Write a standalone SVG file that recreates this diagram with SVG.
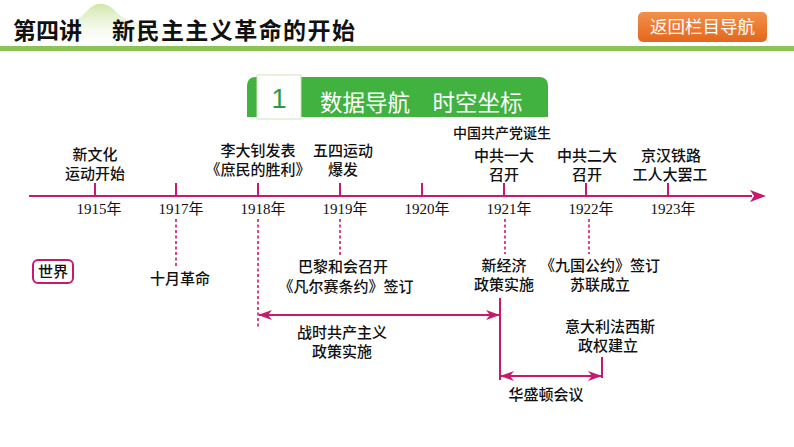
<svg xmlns="http://www.w3.org/2000/svg" width="794" height="447" viewBox="0 0 794 447">
<defs>
<linearGradient id="hill" x1="0" y1="0" x2="0" y2="1">
<stop offset="0" stop-color="#cfe6a8"/>
<stop offset="1" stop-color="#ffffff" stop-opacity="0.2"/>
</linearGradient>
<linearGradient id="btn" x1="0" y1="0" x2="0" y2="1">
<stop offset="0" stop-color="#f3904a"/>
<stop offset="1" stop-color="#e4661c"/>
</linearGradient>
<marker id="ah" viewBox="0 0 14 10" refX="13" refY="5" markerWidth="14" markerHeight="10" markerUnits="userSpaceOnUse" orient="auto-start-reverse">
<path d="M0,0 L14,5 L0,10 L4,5 Z" fill="#c8196e"/>
</marker>
</defs>
<style>
.t{font-family:"Noto Sans CJK SC",sans-serif;font-size:15px;fill:#111;text-anchor:middle;font-weight:500}
.y{font-family:"Liberation Serif","Noto Sans CJK SC",serif;font-size:15px;fill:#111;text-anchor:middle}
.ln{stroke:#c8196e;stroke-width:2;fill:none}
.dot{stroke:#c8196e;stroke-width:1.6;stroke-dasharray:3,2.5;fill:none}
</style>
<rect width="794" height="447" fill="#ffffff"/>
<g id="header">
<path d="M0,46 C40,40 70,30 90,8 C100,0 110,4 118,14 C150,34 220,40 280,46 Z" fill="url(#hill)"/>
<rect x="0" y="46" width="794" height="5" fill="#8dc255"/>
<text x="13" y="39" font-family="Noto Sans CJK SC,sans-serif" font-size="23" font-weight="bold" fill="#111">第四讲</text>
<text x="112" y="39" font-family="Noto Sans CJK SC,sans-serif" font-size="23" font-weight="bold" fill="#111" textLength="243">新民主主义革命的开始</text>
</g>
<g id="btn-back">
<rect x="638" y="12" width="129" height="30" rx="5" fill="url(#btn)"/>
<text x="702.5" y="33" font-family="Noto Sans CJK SC,sans-serif" font-size="17.5" fill="#ffffff" text-anchor="middle">返回栏目导航</text>
</g>
<g id="banner">
<path d="M247,117 L247,86 Q247,77 256,77 L539,77 Q548,77 548,86 L548,117 Z" fill="#41b240"/>
<rect x="257" y="75" width="44" height="44" fill="#ffffff" stroke="#cfe3b8" stroke-width="1"/>
<text x="279" y="108" font-family="Liberation Sans,sans-serif" font-size="27" fill="#2e9a3c" text-anchor="middle">1</text>
<text x="320" y="111" font-family="Noto Sans CJK SC,sans-serif" font-size="22.5" fill="#ffffff">数据导航　时空坐标</text>
</g>
<g id="connectors">
<line class="ln" x1="29" y1="196" x2="752" y2="196"/>
<path d="M750,190 L766,196 L750,202 L754,196 Z" fill="#c8196e"/>
<line class="ln" x1="95" y1="183" x2="95" y2="196"/>
<line class="ln" x1="176" y1="183" x2="176" y2="196"/>
<line class="ln" x1="258" y1="183" x2="258" y2="196"/>
<line class="ln" x1="340" y1="183" x2="340" y2="196"/>
<line class="ln" x1="422" y1="183" x2="422" y2="196"/>
<line class="ln" x1="504" y1="183" x2="504" y2="196"/>
<line class="ln" x1="586" y1="183" x2="586" y2="196"/>
<line class="ln" x1="668" y1="183" x2="668" y2="196"/>
<line class="dot" x1="176" y1="219" x2="176" y2="268"/>
<line class="dot" x1="258" y1="219" x2="258" y2="327"/>
<line class="dot" x1="340" y1="219" x2="340" y2="255"/>
<line class="dot" x1="505" y1="219" x2="505" y2="254"/>
<line class="dot" x1="589" y1="219" x2="589" y2="254"/>
<line class="ln" x1="500" y1="298" x2="500" y2="380"/>
<line class="ln" x1="602" y1="357" x2="602" y2="378"/>
<line class="ln" x1="259" y1="315" x2="499" y2="315" marker-start="url(#ah)" marker-end="url(#ah)"/>
<line class="ln" x1="501" y1="376" x2="601" y2="376" marker-start="url(#ah)" marker-end="url(#ah)"/>
</g>
<g id="years">
<text class="y" x="99" y="214">1915年</text>
<text class="y" x="181" y="214">1917年</text>
<text class="y" x="263" y="214">1918年</text>
<text class="y" x="345" y="214">1919年</text>
<text class="y" x="427" y="214">1920年</text>
<text class="y" x="509" y="214">1921年</text>
<text class="y" x="591" y="214">1922年</text>
<text class="y" x="673" y="214">1923年</text>
</g>
<g id="n1915"><text class="t" x="95" y="160">新文化</text><text class="t" x="95" y="179">运动开始</text></g>
<g id="n1918"><text class="t" x="258" y="156">李大钊发表</text><text class="t" x="258" y="175">《庶民的胜利》</text></g>
<g id="n1919"><text class="t" x="343" y="156">五四运动</text><text class="t" x="343" y="175">爆发</text></g>
<g id="n1921top"><text class="t" x="502" y="138" style="font-size:14px">中国共产党诞生</text><text class="t" x="504" y="161">中共一大</text><text class="t" x="504" y="180">召开</text></g>
<g id="n1922top"><text class="t" x="587" y="161">中共二大</text><text class="t" x="587" y="180">召开</text></g>
<g id="n1923"><text class="t" x="671" y="161">京汉铁路</text><text class="t" x="670" y="180">工人大罢工</text></g>
<g id="world">
<rect x="33" y="260" width="40" height="23" rx="5" fill="#ffffff" stroke="#c8196e" stroke-width="2"/>
<text class="t" x="53" y="277">世界</text>
</g>
<g id="n1917"><text class="t" x="180" y="284">十月革命</text></g>
<g id="n1919b"><text class="t" x="343" y="272">巴黎和会召开</text><text class="t" x="346" y="292">《凡尔赛条约》签订</text></g>
<g id="n1921b"><text class="t" x="504" y="271">新经济</text><text class="t" x="504" y="290">政策实施</text></g>
<g id="n1922b"><text class="t" x="600" y="271">《九国公约》签订</text><text class="t" x="600" y="290">苏联成立</text></g>
<g id="warcomm"><text class="t" x="342" y="338">战时共产主义</text><text class="t" x="342" y="357">政策实施</text></g>
<g id="italy"><text class="t" x="610" y="332">意大利法西斯</text><text class="t" x="608" y="351">政权建立</text></g>
<g id="washington"><text class="t" x="546" y="400">华盛顿会议</text></g>
</svg>
